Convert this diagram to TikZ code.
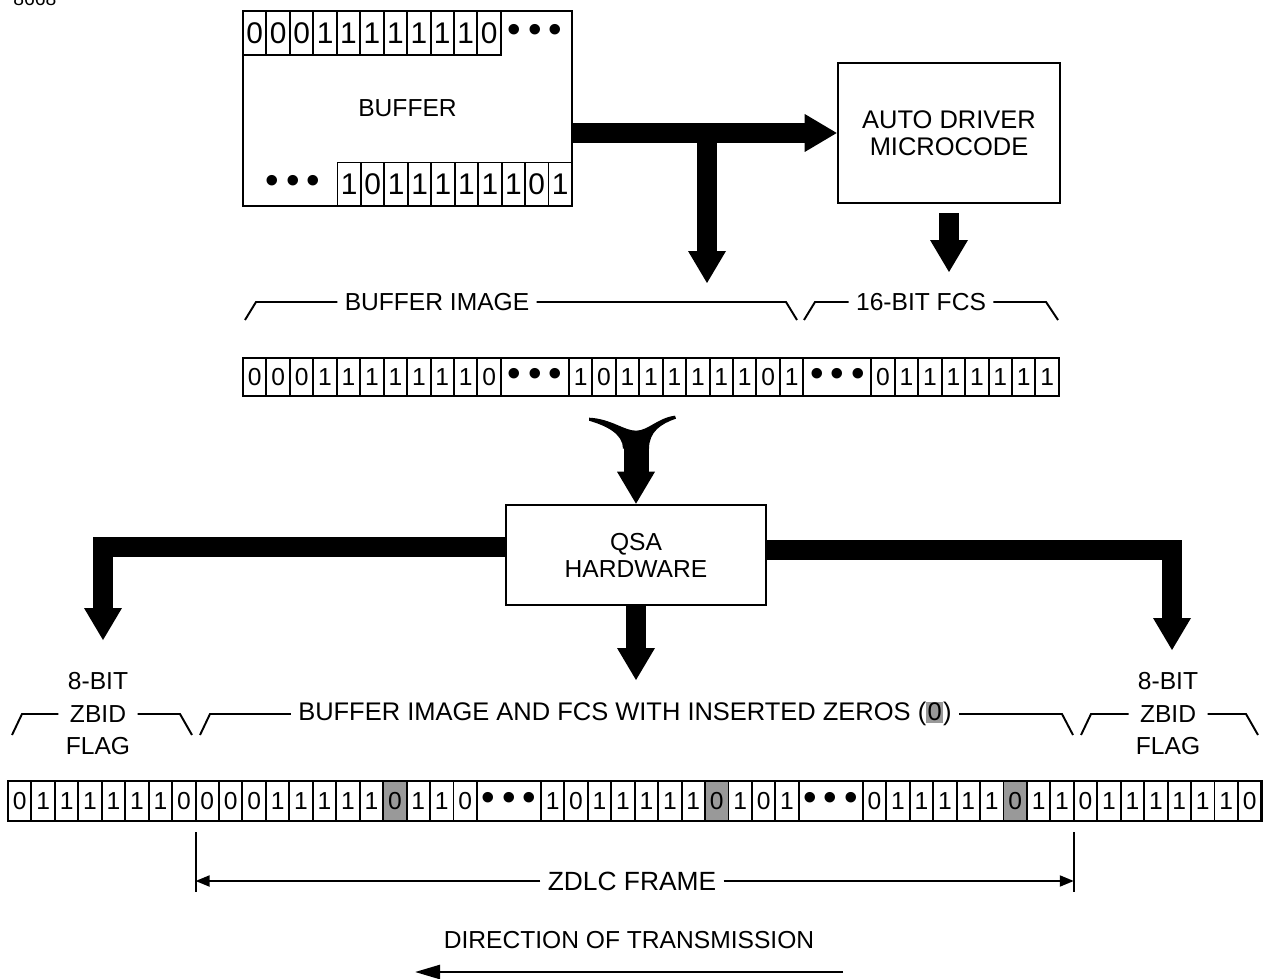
\documentclass[tikz,border=0pt]{standalone}
\usepackage{fontspec}
\setmainfont{Liberation Sans}
\usetikzlibrary{arrows.meta,positioning}
\definecolor{zgray}{gray}{0.6}
\newcommand{\dotrun}{{\fontsize{22}{22}\selectfont\textbullet\hspace{4pt}\textbullet\hspace{4pt}\textbullet}}
\newcommand{\zerobox}{{\setlength{\fboxsep}{0.8pt}\colorbox{zgray}{0}}}
% one row of bit cells, chained from a start point
\newcommand{\bitrow}[3]{%
  \node[inner sep=0pt,outer sep=0pt,minimum size=0pt] (#10) at (#2) {};
  \foreach \bitv [count=\i, remember=\i as \j (initially 0)] in {#3}
    \node (#1\i) [bit\bitv, right=0pt of #1\j];
}
\tikzset{
  bitcell/.style={draw,line width=1.1pt,outer sep=0pt,inner sep=0pt,
                  minimum width=4.69mm,minimum height=8mm,
                  font=\fontsize{14}{14}\selectfont},
  bit0/.style={bitcell,node contents=0},
  bit1/.style={bitcell,node contents=1},
  bitz/.style={bitcell,fill=zgray,node contents=0},
  bitd/.style={bitcell,minimum width=12.8mm,node contents=\dotrun},
  rowframe/.style={line width=1.5pt},
  unitbox/.style={draw,line width=1.5pt,inner sep=0pt},
  bigarrow/.style={line width=4mm,
                   -{Triangle[length=6.4mm,width=7.6mm,line width=0pt]}},
  brk/.style={line width=1.1pt},
  lbl/.style={font=\fontsize{14}{18.5}\selectfont,inner sep=4pt,align=center},
}

\begin{document}
\begin{tikzpicture}[x=0.02cm,y=-0.02cm]
  \useasboundingbox (0,0) rectangle (1270,979);
  \node[font=\fontsize{11}{11}\selectfont,anchor=base west,inner sep=0pt] (fig) at (13,6) {8668};

  % buffer and microcode
  \node[unitbox,minimum width=65.8mm,minimum height=39mm,
        font=\fontsize{14}{14}\selectfont] (buf) at (407.5,108.5) {BUFFER};
  \node[unitbox,minimum width=44.4mm,minimum height=28mm,align=center,
        font=\fontsize{14.5}{15.5}\selectfont] (auto) at (949,133) {AUTO DRIVER\\MICROCODE};
  \begin{scope}[bitcell/.append style={minimum height=8.8mm,font=\fontsize{17}{17}\selectfont}]
    \bitrow{t}{243,33}{0,0,0,1,1,1,1,1,1,1,0}
    \bitrow{u}{337.5,184.5}{1,0,1,1,1,1,1,1,0,1}
  \end{scope}
  \node (tdots) at (535,33) {\dotrun};
  \node (udots) at (293,184) {\dotrun};

  \coordinate (tee) at (707,133);
  \coordinate (bimgin) at (707,283);
  \coordinate (fcsin) at (949,272);
  \draw[bigarrow] (buf.east |- auto.west) -- (auto.west);
  \draw[bigarrow] (tee) -- (bimgin);
  \draw[bigarrow] ([yshift=-1.8mm]auto.south) -- (fcsin);

  % buffer image + fcs
  \node[lbl] (bimg) at (437,302) {BUFFER IMAGE};
  \node[lbl] (fcs) at (921,302) {16-BIT FCS};
  \draw[brk] (245,320) -- (256,302) -- (bimg.west);
  \draw[brk] (bimg.east) -- (786,302) -- (797,320);
  \draw[brk] (804,320) -- (815,302) -- (fcs.west);
  \draw[brk] (fcs.east) -- (1046,302) -- (1058,320);
  \begin{scope}[bitcell/.append style={minimum height=7.6mm},
                bitd/.append style={minimum width=13.6mm}]
    \bitrow{m}{243,377}{0,0,0,1,1,1,1,1,1,1,0,d,1,0,1,1,1,1,1,1,0,1,d,0,1,1,1,1,1,1,1}
  \end{scope}
  \draw[rowframe] (m1.north west) rectangle (m31.south east);

  % QSA hardware
  \node[unitbox,minimum width=52mm,minimum height=20mm,align=center,
        font=\fontsize{14}{15.3}\selectfont] (qsa) at (636,555) {QSA\\HARDWARE};
  \fill[shift={(qsa.north)}] (-47,-83) .. controls (-30,-78) and (-13,-70) .. (-13,-55)
      -- (13,-55) .. controls (13,-72) and (25,-80) .. (40,-85)
      -- (39,-88) .. controls (22,-86) and (12,-73) .. (0,-73)
      .. controls (-12,-73) and (-25,-85) .. (-47,-86) -- cycle;
  \draw[bigarrow,line width=5mm] ([yshift=11.2mm]qsa.north) -- (qsa.north);
  \coordinate (ltip) at (103,640);
  \coordinate (rtip) at (1172,650);
  \coordinate (btip) at (636,680);
  \draw[bigarrow] ([yshift=1.6mm]qsa.west) -| (ltip);
  \draw[bigarrow] ([yshift=1mm]qsa.east) -| (rtip);
  \draw[bigarrow] (qsa.south) -- (btip);

  % transmitted frame
  \node[lbl] (zl) at (98,714) {8-BIT\\ZBID\\FLAG};
  \node[lbl,font=\fontsize{14.5}{17}\selectfont] (ins) at (625,714)
     {BUFFER IMAGE AND FCS WITH INSERTED ZEROS (\zerobox)};
  \node[lbl] (zr) at (1168,714) {8-BIT\\ZBID\\FLAG};
  \draw[brk] (12,735) -- (22,714) -- (zl.west);
  \draw[brk] (zl.east) -- (180,714) -- (192,735);
  \draw[brk] (200,735) -- (210,714) -- (ins.west);
  \draw[brk] (ins.east) -- (1062,714) -- (1073,735);
  \draw[brk] (1081,735) -- (1091,714) -- (zr.west);
  \draw[brk] (zr.east) -- (1246,714) -- (1258,735);
  \bitrow{q}{8,801}{0,1,1,1,1,1,1,0,0,0,0,1,1,1,1,1,z,1,1,0,d,1,0,1,1,1,1,1,z,1,0,1,d,0,1,1,1,1,1,z,1,1,0,1,1,1,1,1,1,0}
  \draw[rowframe] (q1.north west) rectangle (q50.south east);

  % zdlc frame
  \draw[brk] ([yshift=-2.2mm]q8.south east) -- ++(0,60);
  \draw[brk] ([yshift=-2.2mm]q42.south east) -- ++(0,60);
  \node[lbl,font=\fontsize{15}{15}\selectfont] (zdlc) at (632,881) {ZDLC FRAME};
  \draw[brk,-{Triangle[length=2.8mm,width=2.2mm]}] (zdlc.west) -- (zdlc.west -| q8.east);
  \draw[brk,-{Triangle[length=2.8mm,width=2.2mm]}] (zdlc.east) -- (zdlc.east -| q42.east);

  \node[lbl] (dir) at (629,940) {DIRECTION OF TRANSMISSION};
  \coordinate (dirR) at (843,972);
  \coordinate (dirL) at (415,972);
  \draw[line width=1.4pt,-{Triangle[length=5mm,width=2.8mm]}] (dirR) -- (dirL);
\end{tikzpicture}
\end{document}
